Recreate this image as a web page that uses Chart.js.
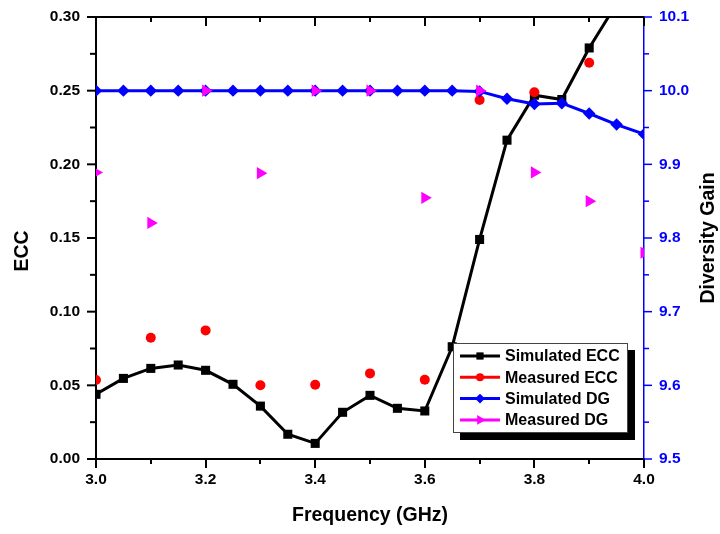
<!DOCTYPE html>
<html>
<head>
<meta charset="utf-8">
<script src="https://cdn.jsdelivr.net/npm/chart.js@4/dist/chart.umd.min.js"></script>
<style>
  html, body { margin: 0; padding: 0; background: #fff; }
  #wrap { width: 720px; height: 534px; }
</style>
</head>
<body>
<div id="wrap"><canvas id="chart" width="720" height="534"></canvas></div>
<script>
// ---- data ----
const simFreq = [3.0, 3.05, 3.1, 3.15, 3.2, 3.25, 3.3, 3.35, 3.4, 3.45, 3.5, 3.55, 3.6, 3.65, 3.7, 3.75, 3.8, 3.85, 3.9, 3.95, 4.0];
const simEcc  = [0.0439, 0.0547, 0.0615, 0.0638, 0.0602, 0.0507, 0.0359, 0.0168, 0.0106, 0.0317, 0.0432, 0.0344, 0.0326, 0.0762, 0.149, 0.2164, 0.2469, 0.244, 0.279, 0.309, null];
const simDg   = [10.0, 10.0, 10.0, 10.0, 10.0, 10.0, 10.0, 10.0, 10.0, 10.0, 10.0, 10.0, 10.0, 10.0, 9.999, 9.989, 9.982, 9.983, 9.969, 9.954, 9.941];

const measEccFreq = [3.0, 3.1, 3.2, 3.3, 3.4, 3.5, 3.6, 3.7, 3.8, 3.9];
const measEcc     = [0.0536, 0.0823, 0.0873, 0.050, 0.0504, 0.0581, 0.0538, 0.2437, 0.2489, 0.269];

const measDgFreq = [3.0, 3.1, 3.2, 3.3, 3.4, 3.5, 3.6, 3.7, 3.8, 3.9, 4.0];
const measDg     = [9.889, 9.8205, 10.0, 9.888, 10.0, 10.0, 9.8545, 10.0, 9.889, 9.850, 9.780];

const seriesNames = ['Simulated ECC', 'Measured ECC', 'Simulated DG', 'Measured DG'];

const pts = (xs, ys) => xs.map((x, i) => ({ x: x, y: ys[i] }));

const FONT = 'Arial, "Liberation Sans", sans-serif';

// ticks (major outward/inward + minor at midpoints), top frame line, y titles
const axisDeco = {
  id: 'axisDeco',
  afterDraw(chart) {
    const { ctx, chartArea: a, scales } = chart;
    const ln = (x1, y1, x2, y2) => { ctx.beginPath(); ctx.moveTo(x1, y1); ctx.lineTo(x2, y2); ctx.stroke(); };
    const withMinor = s => {
      const v = s.ticks.map(t => t.value);
      const out = [];
      v.forEach((t, i) => {
        out.push({ v: t, major: true });
        if (i < v.length - 1) out.push({ v: (t + v[i + 1]) / 2, major: false });
      });
      return out;
    };
    ctx.save();
    ctx.lineCap = 'butt';
    // top frame
    ctx.strokeStyle = '#000'; ctx.lineWidth = 2;
    ln(a.left - 1, a.top, a.right, a.top);
    // x ticks
    withMinor(scales.x).forEach(t => {
      const px = Math.round(scales.x.getPixelForValue(t.v));
      const len = t.major ? 9 : 5;
      ln(px, a.bottom, px, a.bottom + len);
      ln(px, a.top, px, a.top + len);
    });
    // left y ticks
    withMinor(scales.y).forEach(t => {
      const py = scales.y.getPixelForValue(t.v);
      ln(a.left, py, a.left - (t.major ? 9 : 6), py);
    });
    // right y ticks
    ctx.strokeStyle = '#0000ff'; ctx.lineWidth = 1.5;
    withMinor(scales.y2).forEach(t => {
      const py = scales.y2.getPixelForValue(t.v);
      ln(a.right, py, a.right + (t.major ? 8 : 5), py);
    });
    // vertical axis titles
    ctx.fillStyle = '#000';
    ctx.font = 'bold 19.5px ' + FONT;
    ctx.textAlign = 'center';
    ctx.textBaseline = 'middle';
    ctx.save(); ctx.translate(23, 251); ctx.rotate(-Math.PI / 2); ctx.fillText('ECC', 0, 0); ctx.restore();
    ctx.save(); ctx.translate(709, (a.top + a.bottom) / 2); ctx.rotate(-Math.PI / 2); ctx.fillText('Diversity Gain', 0, 0); ctx.restore();
    ctx.restore();
  }
};

// boxed legend with drop shadow, inside the plot
const boxLegend = {
  id: 'boxLegend',
  afterDraw(chart) {
    const ctx = chart.ctx;
    const bx = 453, by = 343, bw = 175, bh = 90;
    ctx.save();
    ctx.fillStyle = '#000';
    ctx.fillRect(bx + 7, by + 7, bw, bh);
    ctx.fillStyle = '#fff';
    ctx.fillRect(bx, by, bw, bh);
    ctx.strokeStyle = '#444'; ctx.lineWidth = 1;
    ctx.strokeRect(bx + 0.5, by + 0.5, bw - 1, bh - 1);
    chart.data.datasets.forEach((ds, i) => {
      const y = 356 + i * 21.3;
      ctx.strokeStyle = ds.borderColor; ctx.lineWidth = 3;
      ctx.beginPath(); ctx.moveTo(460, y); ctx.lineTo(500, y); ctx.stroke();
      ctx.fillStyle = ds.pointBackgroundColor;
      ctx.strokeStyle = ds.pointBackgroundColor;
      Chart.helpers.drawPoint(ctx, {
        pointStyle: ds.pointStyle, rotation: ds.pointRotation || 0,
        radius: ds.pointRadius * 0.8, borderWidth: 0
      }, 480, y);
      ctx.fillStyle = '#000';
      ctx.font = 'bold 16px ' + FONT;
      ctx.textAlign = 'left'; ctx.textBaseline = 'middle';
      ctx.fillText(ds.label, 505, y + 1);
    });
    ctx.restore();
  }
};

const fixY = w => s => { s.width = w; s.paddingTop = 0; s.paddingBottom = 0; };

new Chart(document.getElementById('chart'), {
  type: 'line',
  data: {
    datasets: [
      {
        label: seriesNames[0], data: pts(simFreq, simEcc), yAxisID: 'y', order: 4,
        borderColor: '#000', borderWidth: 3, pointStyle: 'rect', pointRadius: 6.4,
        pointBackgroundColor: '#000', pointBorderWidth: 0, clip: 0, spanGaps: false
      },
      {
        label: seriesNames[1], data: pts(measEccFreq, measEcc), yAxisID: 'y', order: 3, showLine: false,
        borderColor: '#ff0000', borderWidth: 3, pointStyle: 'circle', pointRadius: 5,
        pointBackgroundColor: '#ff0000', pointBorderWidth: 0, clip: 0
      },
      {
        label: seriesNames[2], data: pts(simFreq, simDg), yAxisID: 'y2', order: 2,
        borderColor: '#0000ff', borderWidth: 3, pointStyle: 'rectRot', pointRadius: 6.2,
        pointBackgroundColor: '#0000ff', pointBorderWidth: 0, clip: 0
      },
      {
        label: seriesNames[3], data: pts(measDgFreq, measDg), yAxisID: 'y2', order: 1, showLine: false,
        borderColor: '#ff00ff', borderWidth: 3, pointStyle: 'triangle', pointRotation: 90, pointRadius: 7,
        pointBackgroundColor: '#ff00ff', pointBorderWidth: 0, clip: 0
      }
    ]
  },
  options: {
    responsive: false,
    animation: false,
    devicePixelRatio: 1,
    layout: { padding: { top: 17, left: 0, right: 0, bottom: 0 } },
    plugins: { legend: { display: false }, tooltip: { enabled: false } },
    elements: { line: { tension: 0 } },
    scales: {
      x: {
        type: 'linear', min: 3.0, max: 4.0,
        afterFit: s => { s.height = 75; s.paddingLeft = 0; s.paddingRight = 0; },
        grid: { display: false, drawTicks: false },
        border: { display: true, color: '#000', width: 2 },
        ticks: { stepSize: 0.2, padding: 11, color: '#000', font: { family: FONT, size: 15.5, weight: 'bold' },
                 callback: v => v.toFixed(1) },
        title: { display: true, text: 'Frequency (GHz)', color: '#000',
                 font: { family: FONT, size: 19.5, weight: 'bold' }, padding: { top: 0, bottom: 7 } }
      },
      y: {
        type: 'linear', position: 'left', min: 0, max: 0.30,
        afterFit: fixY(96),
        grid: { display: false, drawTicks: false },
        border: { display: true, color: '#000', width: 2 },
        ticks: { stepSize: 0.05, padding: 16, color: '#000', font: { family: FONT, size: 15.5, weight: 'bold' },
                 callback: v => v.toFixed(2) }
      },
      y2: {
        type: 'linear', position: 'right', min: 9.5, max: 10.1,
        afterFit: fixY(76),
        grid: { display: false, drawTicks: false },
        border: { display: true, color: '#0000ff', width: 1.5 },
        ticks: { stepSize: 0.1, padding: 15, color: '#0000ff', font: { family: FONT, size: 15.5, weight: 'bold' },
                 callback: v => v.toFixed(1) }
      }
    }
  },
  plugins: [axisDeco, boxLegend]
});
</script>
</body>
</html>
